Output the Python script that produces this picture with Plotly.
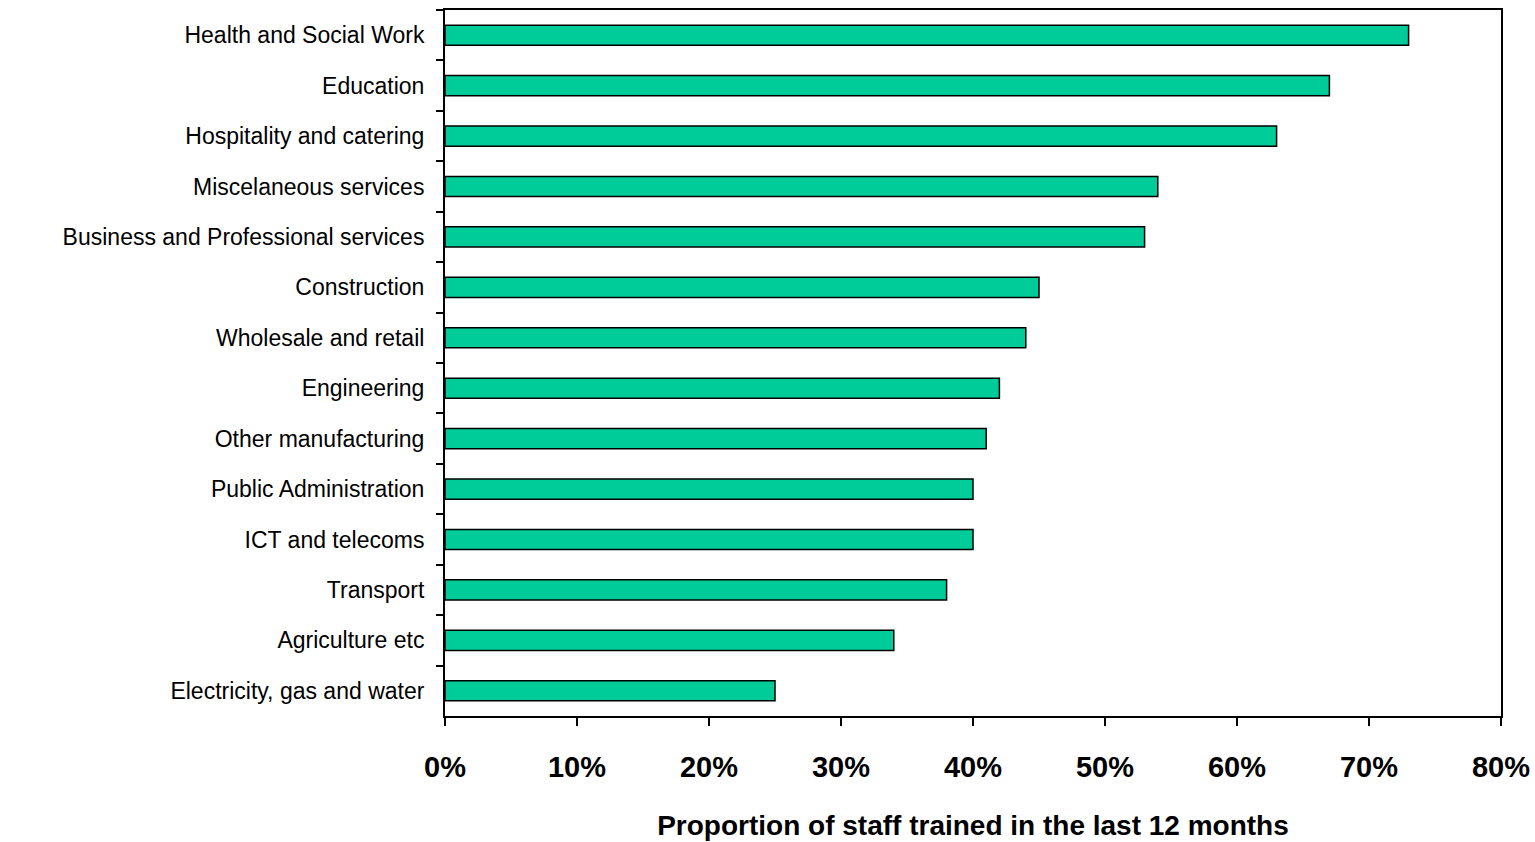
import plotly.graph_objects as go

sectors = [
    "Health and Social Work",
    "Education",
    "Hospitality and catering",
    "Miscelaneous services",
    "Business and Professional services",
    "Construction",
    "Wholesale and retail",
    "Engineering",
    "Other manufacturing",
    "Public Administration",
    "ICT and telecoms",
    "Transport",
    "Agriculture etc",
    "Electricity, gas and water",
]
trained_share = [0.73, 0.67, 0.63, 0.54, 0.53, 0.45, 0.44, 0.42, 0.41, 0.40, 0.40, 0.38, 0.34, 0.25]
x_ticks = [0, 0.1, 0.2, 0.3, 0.4, 0.5, 0.6, 0.7, 0.8]
x_tick_text = ["0%", "10%", "20%", "30%", "40%", "50%", "60%", "70%", "80%"]

FONT = "Liberation Sans, Arial, sans-serif"

fig = go.Figure(
    go.Bar(
        x=trained_share,
        y=sectors,
        orientation="h",
        marker=dict(color="#00CC99", line=dict(color="#000000", width=1.5)),
        hoverinfo="x+y",
    )
)

fig.update_layout(
    width=1535,
    height=842,
    margin=dict(l=445, r=34, t=10, b=126),
    paper_bgcolor="white",
    plot_bgcolor="white",
    bargap=0.6,
    showlegend=False,
    font=dict(family=FONT, color="black"),
)

fig.update_xaxes(
    range=[0, 0.8],
    automargin=False,
    tickvals=x_ticks,
    ticktext=x_tick_text,
    ticks="outside",
    ticklen=8,
    tickwidth=2,
    tickcolor="black",
    ticklabelstandoff=16,
    tickfont=dict(size=29, family=FONT, weight="bold"),
    showgrid=False,
    zeroline=False,
    showline=True,
    linecolor="black",
    linewidth=2,
    mirror=True,
    title=dict(
        text="Proportion of staff trained in the last 12 months",
        font=dict(size=28, family=FONT, weight="bold"),
        standoff=34,
    ),
)

fig.update_yaxes(
    type="category",
    autorange="reversed",
    automargin=False,
    tickson="boundaries",
    ticks="outside",
    ticklen=7,
    tickwidth=2,
    tickcolor="black",
    ticklabelstandoff=14,
    tickfont=dict(size=23, family=FONT),
    showgrid=False,
    showline=True,
    linecolor="black",
    linewidth=2,
    mirror=True,
)

fig.write_html("out.html")
